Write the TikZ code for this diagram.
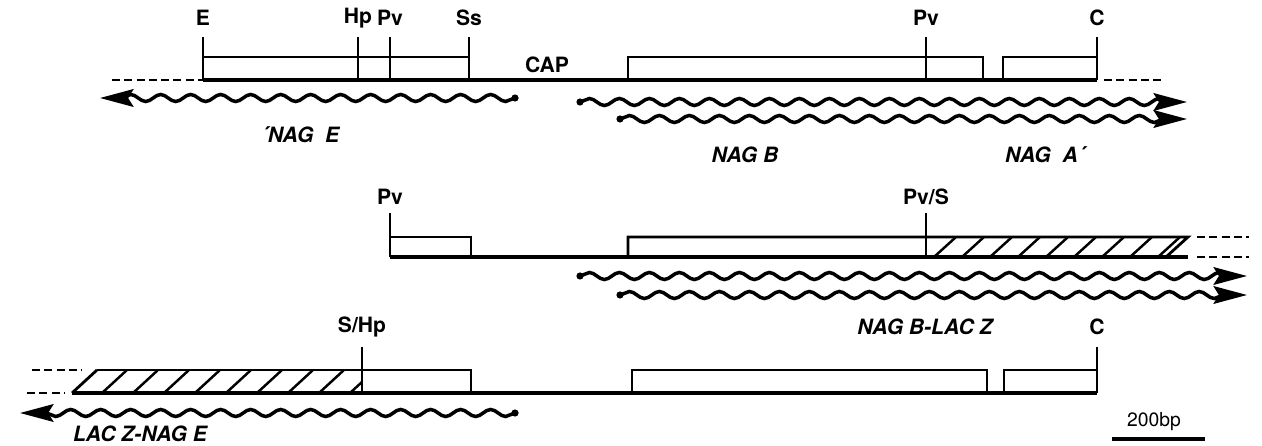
\documentclass[tikz,border=0pt]{standalone}
\usepackage{fontspec}
\setmainfont{TeX Gyre Heros}
\usetikzlibrary{arrows.meta, decorations.pathmorphing}

\begin{document}
\begin{tikzpicture}[
    x=0.02cm, y=-0.02cm,
    font=\bfseries\fontsize{12}{14}\selectfont,
    dna/.style={line width=2pt},
    gene/.style={line width=1.6pt},
    site/.style={line width=1.4pt},
    ext/.style={line width=1.6pt, dash pattern=on 4.5pt off 2.5pt},
    mrna/.style={line width=2pt, decorate,
      decoration={snake, segment length=0.6cm, amplitude=0.07cm, post length=3mm},
      -{Stealth[length=19pt,width=10pt,inset=3pt]}},
    mdot/.style={fill, radius=3.6},
    tag/.style={inner sep=1pt},
    gname/.style={inner sep=1pt, font=\bfseries\itshape\fontsize{12}{14}\selectfont},
    hatch/.style={line width=1.4pt}
  ]
    \useasboundingbox (0,0) rectangle (1262,446);

    % --- wild type region
    \coordinate (w1l) at (203,80);   \coordinate (w1r) at (1097,80);
    \coordinate (w1dl) at (112,80);  \coordinate (w1dr) at (1165,80);
    \draw[dna] (w1l) -- (w1r);
    \draw[ext] (w1dl) -- (w1l);
    \draw[ext] ([xshift=4pt]w1r) -- (w1dr);
    \draw[gene] (203,80) |- (469,57) -- (469,80);
    \draw[gene] (628,80) |- (983,57) -- (983,80);
    \draw[gene] (1003,80) |- (1097,57);
    \foreach \x/\s/\n in {203/E/sE, 358/Hp/sHa, 390/Pv/sPa, 469/Ss/sSs, 926/Pv/sPb, 1097/C/sCa} {
      \draw[site] (\x,80) -- (\x,37);
      \node[tag] (\n) at (\x,18) {\s};
    }
    \node[tag] (cap) at (547,65) {CAP};

    \coordinate (m1s) at (515,98);  \coordinate (m1t) at (100,98);
    \coordinate (m2s) at (580,102); \coordinate (m2t) at (1187,102);
    \coordinate (m3s) at (620,119); \coordinate (m3t) at (1187,119);
    \foreach \a/\b in {m1s/m1t, m2s/m2t, m3s/m3t} {
      \draw[mrna] (\a) -- (\b);
      \fill[mdot] (\a) circle;
    }
    \node[gname] (nagE) at (300,135) {´NAG\ \ E};
    \node[gname] (nagB) at (745,155) {NAG\ B};
    \node[gname] (nagA) at (1045,155) {NAG\ \ A´};

    % --- nagB-lacZ fusion
    \coordinate (f1l) at (390,257); \coordinate (f1r) at (1188,257);
    \draw[dna] (f1l) -- (f1r);
    \draw[gene] (390,257) |- (471,237) -- (471,257);
    \draw[gene] (628,257) |- (1188,237) -- (1166,257);
    \draw[ext] (1197,237) -- (1249,237);
    \draw[ext] (1197,257) -- (1249,257);
    \begin{scope}
      \clip (926,237) -- (1188,237) -- (1166,257) -- (926,257) -- cycle;
      \foreach \x in {934,962,...,1160} \draw[hatch] (\x,257) -- ++(22,-20);
    \end{scope}
    \draw[site] (390,257) -- (390,213);
    \node[tag] (sPc) at (390,197) {Pv};
    \draw[site] (926,257) -- (926,213);
    \node[tag] (sPS) at (926,197) {Pv/S};

    \coordinate (m4s) at (580,276); \coordinate (m4t) at (1247,276);
    \coordinate (m5s) at (620,295); \coordinate (m5t) at (1247,295);
    \foreach \a/\b in {m4s/m4t, m5s/m5t} {
      \draw[mrna] (\a) -- (\b);
      \fill[mdot] (\a) circle;
    }
    \node[gname] (nagBlacZ) at (925,327) {NAG\ B-LAC\ Z};

    % --- lacZ-nagE fusion
    \coordinate (g1l) at (72,393); \coordinate (g1r) at (1097,393);
    \draw[dna] (g1l) -- (g1r);
    \draw[gene] (97,370) -- (471,370) -- (471,393);
    \draw[gene] (72,393) -- (97,370);
    \draw[gene] (632,393) |- (987,370) -- (987,393);
    \draw[gene] (1004,393) |- (1097,370);
    \draw[ext] (32,370) -- (82,370);
    \draw[ext] (27,393) -- (64,393);
    \begin{scope}
      \clip (72,393) -- (97,370) -- (362,370) -- (362,393) -- cycle;
      \foreach \x in {102,133,...,370} \draw[hatch] (\x,393) -- ++(25,-23);
    \end{scope}
    \draw[site] (362,393) -- (362,347);
    \node[tag] (sSH) at (362,327) {S/Hp};
    \draw[site] (1097,393) -- (1097,347);
    \node[tag] (sCb) at (1097,327) {C};

    \coordinate (m6s) at (515,413); \coordinate (m6t) at (20,413);
    \draw[mrna] (m6s) -- (m6t);
    \fill[mdot] (m6s) circle;
    \node[gname] (lacZnagE) at (140,434) {LAC\ Z-NAG\ E};

    % scale
    \node[font=\mdseries\fontsize{11}{13}\selectfont, inner sep=1pt] (bp) at (1154,422) {200bp};
    \coordinate (sbl) at (1112,439); \coordinate (sbr) at (1205,439);
    \draw[dna] (sbl) -- (sbr);
\end{tikzpicture}
\end{document}
